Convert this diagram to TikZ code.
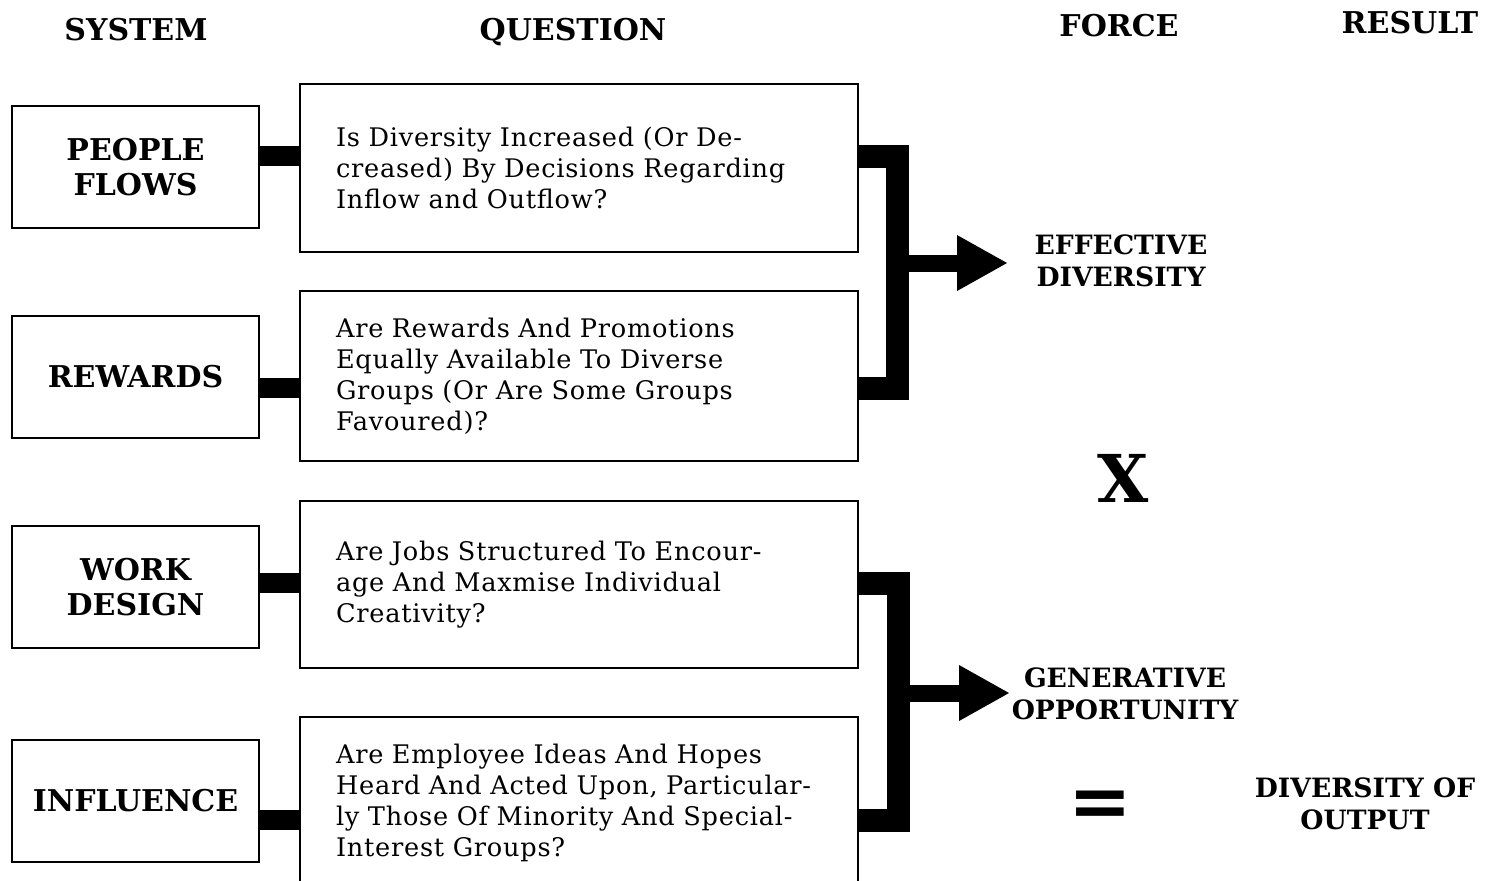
\documentclass[tikz,border=0pt]{standalone}
\usepackage{fontspec}
\setmainfont{DejaVu Serif}
\newfontfamily\qfont[LetterSpace=3]{DejaVu Serif}
\usetikzlibrary{arrows.meta}

\begin{document}
\begin{tikzpicture}[x=0.5pt, y=-0.5pt,
    sysbox/.style={draw, line width=1pt, minimum width=123.5pt, minimum height=61pt,
        align=center, font=\fontsize{15}{17.5}\selectfont\bfseries},
    qbox/.style={draw, line width=1pt, text width=243pt, inner xsep=18pt,
        align=left, font=\qfont\fontsize{12.8}{15.5}\selectfont},
    head/.style={anchor=base, font=\fontsize{15}{17.5}\selectfont\bfseries},
    force/.style={align=center, font=\fontsize{13.3}{16}\selectfont\bfseries},
    link/.style={line width=10pt},
    bracket/.style={line width=11.5pt, line join=miter},
    fatarrow/.style={line width=8.5pt, -{Triangle[length=25.5pt, width=26pt]}}]
    \useasboundingbox (0,0) rectangle (1492,880);
    \clip (0,0) rectangle (1492,880);

    % column heads
    \node[head] (hsys) at (136,40) {SYSTEM};
    \node[head] (hque) at (573,40) {QUESTION};
    \node[head] (hfor) at (1119,36) {FORCE};
    \node[head] (hres) at (1410,33) {RESULT};

    % systems
    \node[sysbox] (s1) at (135.5,167) {PEOPLE\\FLOWS};
    \node[sysbox] (s2) at (135.5,376.5) {REWARDS};
    \node[sysbox] (s3) at (135.5,587) {WORK\\DESIGN};
    \node[sysbox] (s4) at (135.5,800.5) {INFLUENCE};

    % questions
    \node[qbox, minimum height=84pt] (q1) at (579,168)
        {Is Diversity Increased (Or De-\\creased) By Decisions Regarding\\Inflow and Outflow?};
    \node[qbox, minimum height=85pt] (q2) at (579,376)
        {Are Rewards And Promotions\\Equally Available To Diverse\\Groups (Or Are Some Groups\\Favoured)?};
    \node[qbox, minimum height=83.5pt] (q3) at (579,584.5)
        {Are Jobs Structured To Encour-\\age And Maxmise Individual\\Creativity?};
    \node[qbox, minimum height=86pt] (q4) at (579,803)
        {Are Employee Ideas And Hopes\\Heard And Acted Upon, Particular-\\ly Those Of Minority And Special-\\Interest Groups?};

    % joint heights
    \coordinate (j1) at (0,156);
    \coordinate (j2) at (0,388);
    \coordinate (j3) at (0,583);
    \coordinate (j4) at (0,820);
    \coordinate (m1) at (897,263);
    \coordinate (m2) at (898,693);
    \coordinate (t1) at (1008,263);
    \coordinate (t2) at (1010,693);

    \draw[link] (s1.east |- j1) -- (q1.west |- j1);
    \draw[link] (s2.east |- j2) -- (q2.west |- j2);
    \draw[link] (s3.east |- j3) -- (q3.west |- j3);
    \draw[link] (s4.east |- j4) -- (q4.west |- j4);

    \draw[bracket] (q1.east |- j1) -| (m1) |- (q2.east |- j2);
    \draw[bracket] (q3.east |- j3) -| (m2) |- (q4.east |- j4);
    \draw[fatarrow] (m1) -- (t1);
    \draw[fatarrow] (m2) -- (t2);

    % forces and result
    \node[force] (f1) at (1121,261) {EFFECTIVE\\DIVERSITY};
    \node[force] (f2) at (1125,694) {GENERATIVE\\OPPORTUNITY};
    \node[font=\fontsize{33}{33}\selectfont\bfseries] (times) at (1123,478) {X};
    \node[font=\fontsize{38}{38}\selectfont\bfseries] (equals) at (1100,809) {=};
    \node[force] (res) at (1365,804) {DIVERSITY OF\\OUTPUT};
\end{tikzpicture}
\end{document}
